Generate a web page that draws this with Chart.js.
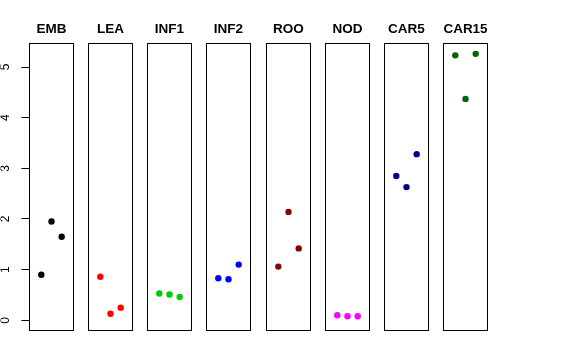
<!DOCTYPE html>
<html>
<head>
<meta charset="utf-8">
<script src="https://cdn.jsdelivr.net/npm/chart.js@4"></script>
<style>
  html, body { margin: 0; padding: 0; background: #fff; }
  #wrap { position: relative; width: 576px; height: 360px; background: #fff; }
  #wrap canvas { position: absolute; top: 0; }
</style>
</head>
<body>
<div id="wrap"></div>
<script>
const tissues = ['EMB', 'LEA', 'INF1', 'INF2', 'ROO', 'NOD', 'CAR5', 'CAR15'];
const tissueColors = ['#000000', '#FF0000', '#00CD00', '#0000FF', '#8B0000', '#FF00FF', '#00008B', '#006400'];
const replicates = [1, 2, 3];
const yTicks = [0, 1, 2, 3, 4, 5];

const emb = [0.90, 1.95, 1.65];
const lea = [0.86, 0.13, 0.25];
const inf1 = [0.53, 0.51, 0.46];
const inf2 = [0.83, 0.81, 1.10];
const roo = [1.06, 2.14, 1.42];
const nod = [0.10, 0.08, 0.08];
const car5 = [2.85, 2.63, 3.28];
const car15 = [5.23, 4.37, 5.26];
const values = [emb, lea, inf1, inf2, roo, nod, car5, car15];

const FONT = '"Liberation Sans", Arial, Helvetica, sans-serif';
const Y_MIN = -0.201;
const Y_MAX = 5.464;

const boxPlugin = {
  id: 'panelBox',
  afterDraw(chart) {
    const a = chart.chartArea;
    const ctx = chart.ctx;
    ctx.save();
    ctx.strokeStyle = '#000';
    ctx.lineWidth = 1;
    ctx.strokeRect(a.left, a.top, a.right - a.left, a.bottom - a.top);
    ctx.restore();
  },
};

const wrap = document.getElementById('wrap');

tissues.forEach((name, i) => {
  const first = i === 0;
  const canvas = document.createElement('canvas');
  const width = first ? 74 : 45;
  canvas.width = width;
  canvas.height = 360;
  canvas.style.width = width + 'px';
  canvas.style.height = '360px';
  canvas.style.left = (first ? 0 : Math.round(29 + i * 59.14)) + 'px';
  wrap.appendChild(canvas);

  new Chart(canvas, {
    type: 'scatter',
    data: {
      datasets: [{
        data: replicates.map((x, k) => ({ x, y: values[i][k] })),
        backgroundColor: tissueColors[i],
        borderColor: tissueColors[i],
        borderWidth: 0,
        pointRadius: 3.2,
        pointHoverRadius: 3.2,
      }],
    },
    plugins: [boxPlugin],
    options: {
      responsive: false,
      animation: false,
      events: [],
      clip: false,
      layout: {
        autoPadding: false,
        padding: { left: 0.5, right: 0.5, top: 0, bottom: 29.5 },
      },
      plugins: {
        legend: { display: false },
        tooltip: { enabled: false },
        title: {
          display: true,
          text: name,
          fullSize: false,
          color: '#000',
          font: { family: FONT, size: 13.5, weight: 'bold' },
          padding: { top: 21.4, bottom: 5.9 },
        },
      },
      scales: {
        x: {
          type: 'linear',
          min: -0.16,
          max: 4.16,
          display: false,
        },
        y: {
          type: 'linear',
          min: Y_MIN,
          max: Y_MAX,
          display: first,
          afterBuildTicks: (scale) => {
            scale.ticks = yTicks.map((v) => ({ value: v }));
          },
          afterFit: (scale) => {
            if (!first) return;
            scale.width = 29;
            scale.paddingTop = 0;
            scale.paddingBottom = 0;
          },
          border: { display: false },
          grid: {
            drawOnChartArea: false,
            drawTicks: true,
            tickLength: 8,
            color: '#000',
            lineWidth: 1,
          },
          ticks: {
            minRotation: 90,
            maxRotation: 90,
            crossAlign: 'center',
            padding: 12,
            color: '#000',
            font: { family: FONT, size: 12 },
            callback: (v) => String(v),
          },
        },
      },
    },
  });
});
</script>
</body>
</html>
